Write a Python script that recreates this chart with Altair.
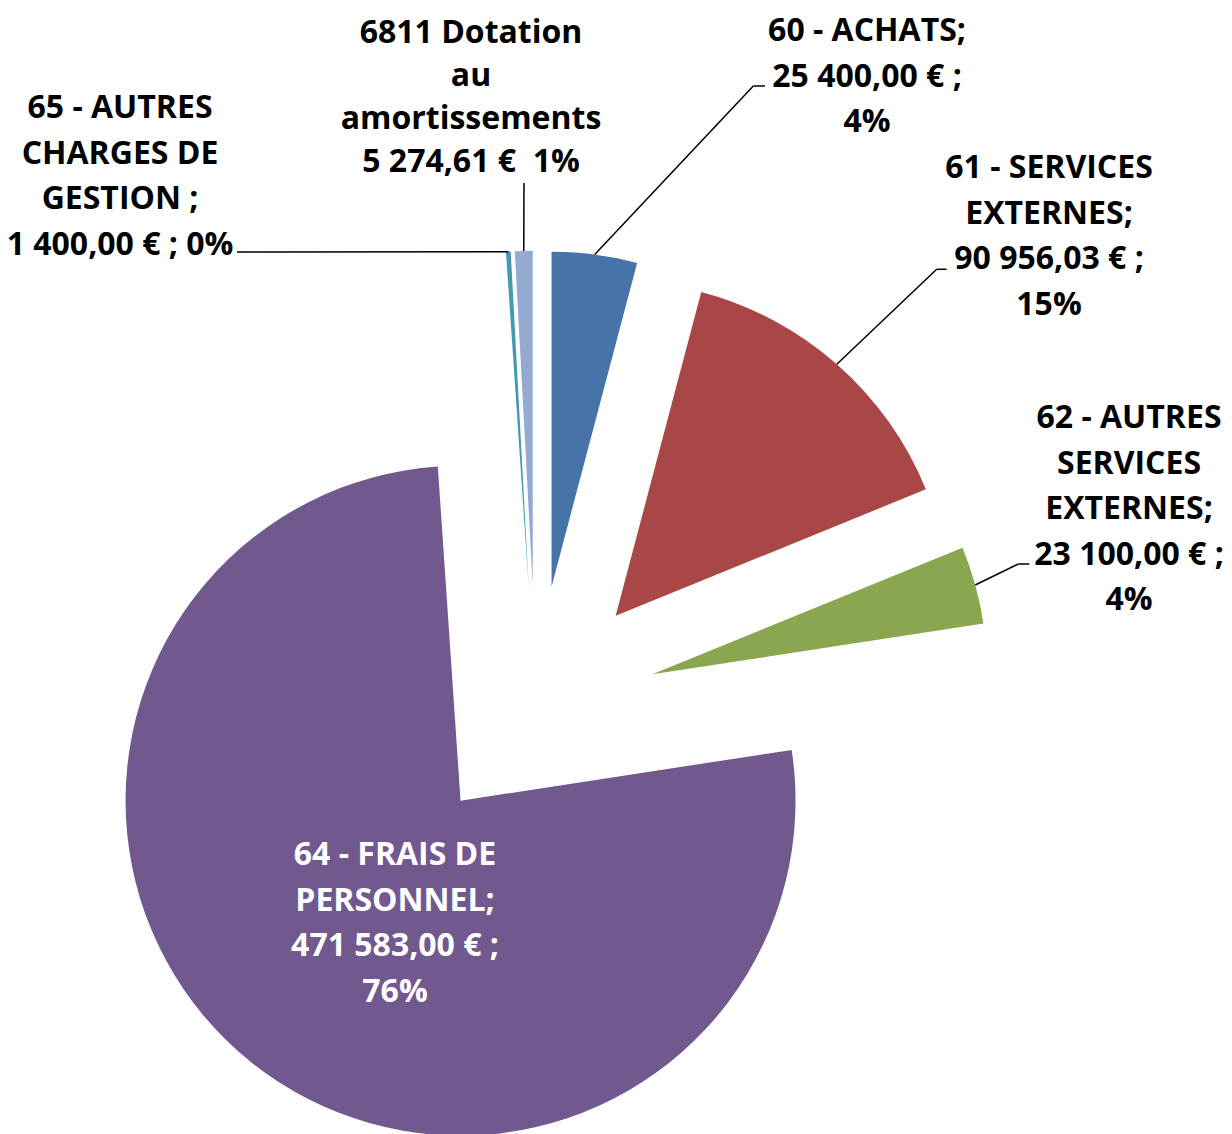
import math
import altair as alt
import pandas as pd

# ---- data ----
categories = [
    "60 - ACHATS",
    "61 - SERVICES EXTERNES",
    "62 - AUTRES SERVICES EXTERNES",
    "64 - FRAIS DE PERSONNEL",
    "65 - AUTRES CHARGES DE GESTION",
    "6811 Dotation au amortissements",
]
amounts = [25400.00, 90956.03, 23100.00, 471583.00, 1400.00, 5274.61]
name_lines = [
    ["60 - ACHATS;"],
    ["61 - SERVICES", "EXTERNES;"],
    ["62 - AUTRES", "SERVICES", "EXTERNES;"],
    ["64 - FRAIS DE", "PERSONNEL;"],
    ["65 - AUTRES", "CHARGES DE", "GESTION ;"],
    ["6811 Dotation", "au", "amortissements"],
]
colors = ["#4674A8", "#A84745", "#8AA64F", "#71588F", "#4299B0", "#94AAD1"]

total = sum(amounts)


def fr_money(v):
    s = f"{v:,.2f}"
    return s.replace(",", " ").replace(".", ",") + " €"


labels = []
for i, (nm, v) in enumerate(zip(name_lines, amounts)):
    pct = f"{round(v / total * 100)}%"
    money = fr_money(v)
    if i == 4:
        tail = [f"{money} ; {pct}"]
    elif i == 5:
        tail = [f"{money}\u00a0 {pct}"]
    else:
        tail = [f"{money} ;", pct]
    labels.append("\n".join(nm + tail))

# ---- layout (pixels, plot coordinates) ----
W, H = 1216, 1126
CX, CY = 528.0, 698.5
EXPLODE = 120.7
R = 335
FONT = "Open Sans"
FS = 32
LH = 45.5
LH_TOP = 43

label_pos = {  # center x, first baseline y
    0: (859, 33),
    1: (1041, 170),
    2: (1121, 420),
    3: (387, 857),
    4: (112, 110),
    5: (463, 35),
}
leader = {  # elbow x, elbow y, end x, end y
    0: (745.3, 78, 757, 78),
    1: (928.7, 261.3, 938.7, 261.3),
    2: (1010.3, 556, 1021.3, 556),
    3: (None, None, None, None),
    4: (229, 244, 229, 244),
    5: (516, 175, 516, 175),
}

df = pd.DataFrame({
    "order": list(range(len(categories))),
    "category": categories,
    "amount": amounts,
    "label": labels,
    "label_x": [label_pos[i][0] for i in range(6)],
    "label_y": [label_pos[i][1] for i in range(6)],
    "elbow_x": [leader[i][0] for i in range(6)],
    "elbow_y": [leader[i][1] for i in range(6)],
    "end_x": [leader[i][2] for i in range(6)],
    "end_y": [leader[i][3] for i in range(6)],
    "text_color": ["black", "black", "black", "white", "black", "black"],
})

base = (
    alt.Chart(df)
    .transform_joinaggregate(total="sum(amount)")
    .transform_window(cum="sum(amount)", sort=[alt.SortField("order")], frame=[None, 0])
    .transform_calculate(
        start="(datum.cum - datum.amount) / datum.total",
        end="datum.cum / datum.total",
        mid="PI * (2 * datum.cum - datum.amount) / datum.total",
    )
    .transform_calculate(
        cx=f"{CX} + {EXPLODE} * sin(datum.mid)",
        cy=f"{CY} - {EXPLODE} * cos(datum.mid)",
    )
    .transform_calculate(
        px=f"datum.cx + {R} * sin(datum.mid)",
        py=f"datum.cy - {R} * cos(datum.mid)",
    )
)

arcs = base.mark_arc(radius=R).encode(
    theta=alt.Theta("start:Q", stack=None,
                    scale=alt.Scale(domain=[0, 1], range=[0, 2 * math.pi])),
    theta2="end:Q",
    x=alt.X("cx:Q", scale=None, axis=None),
    y=alt.Y("cy:Q", scale=None, axis=None),
    color=alt.Color("category:N", scale=alt.Scale(domain=categories, range=colors), legend=None),
)

lead1 = base.transform_filter("isValid(datum.elbow_x)").mark_rule(
    color="black", strokeWidth=1.5
).encode(
    x=alt.X("px:Q", scale=None, axis=None),
    y=alt.Y("py:Q", scale=None, axis=None),
    x2="elbow_x:Q",
    y2="elbow_y:Q",
)
lead2 = base.transform_filter("isValid(datum.elbow_x)").mark_rule(
    color="black", strokeWidth=1.5
).encode(
    x=alt.X("elbow_x:Q", scale=None, axis=None),
    y=alt.Y("elbow_y:Q", scale=None, axis=None),
    x2="end_x:Q",
    y2="end_y:Q",
)


def text_layer(filter_expr, line_height):
    return base.transform_filter(filter_expr).mark_text(
        font=FONT, fontSize=FS, fontWeight="bold", lineBreak="\n", lineHeight=line_height,
        align="center", baseline="alphabetic",
    ).encode(
        x=alt.X("label_x:Q", scale=None, axis=None),
        y=alt.Y("label_y:Q", scale=None, axis=None),
        text="label:N",
        color=alt.Color("text_color:N", scale=None, legend=None),
    )


text_main = text_layer("datum.order != 5", LH)
text_top = text_layer("datum.order == 5", LH_TOP)

chart = (
    alt.layer(arcs, lead1, lead2, text_main, text_top)
    .resolve_scale(color="independent")
    .properties(width=W, height=H, autosize=alt.AutoSizeParams(type="none"), padding=0,
                background="white")
    .configure_view(stroke=None)
)

chart.save("out.html", embed_options={"renderer": "svg", "actions": False})
